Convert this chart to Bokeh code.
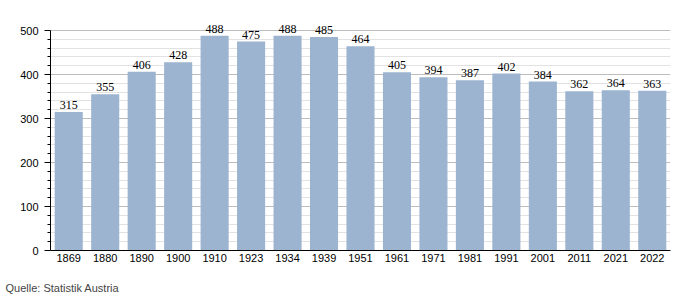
from bokeh.plotting import figure
from bokeh.models import ColumnDataSource, FixedTicker, Title, LabelSet, Range1d
from bokeh.embed import file_html
from bokeh.resources import INLINE

years = ["1869", "1880", "1890", "1900", "1910", "1923", "1934", "1939", "1951",
         "1961", "1971", "1981", "1991", "2001", "2011", "2021", "2022"]
values = [315, 355, 406, 428, 488, 475, 488, 485, 464, 405, 394, 387, 402, 384, 362, 364, 363]
labels = [str(v) for v in values]
major_ticks = [0, 100, 200, 300, 400, 500]
minor_ticks = [v for v in range(20, 500, 20) if v % 100 != 0]

src = ColumnDataSource(dict(x=years, top=values, lab=labels))

p = figure(x_range=years, y_range=Range1d(0, 550), width=700, height=300,
           output_backend="svg", toolbar_location=None,
           min_border_left=50, min_border_right=30, min_border_top=8, min_border_bottom=50)
p.outline_line_color = None
p.background_fill_color = "white"
p.x_range.range_padding = 0

p.vbar(x="x", top="top", width=0.77, source=src, color="#9cb4d0", line_color=None)

p.add_layout(LabelSet(x="x", y="top", text="lab", source=src, text_align="center",
                      text_baseline="bottom", y_offset=3, text_font_size="12px",
                      text_font="Liberation Sans", text_color="black"))

p.yaxis.ticker = FixedTicker(ticks=major_ticks, minor_ticks=minor_ticks)
p.yaxis.bounds = (0, 500)
p.ygrid.grid_line_color = "#bdbdbd"
p.ygrid.minor_grid_line_color = "#e2e2e2"
p.xgrid.grid_line_color = None
p.ygrid.level = "underlay"

for ax in (p.xaxis, p.yaxis):
    ax.axis_line_color = "black"
    ax.major_label_text_font = "Liberation Sans"
    ax.major_label_text_font_size = "11px"
    ax.major_label_text_color = "black"
p.yaxis.major_tick_line_color = "black"
p.yaxis.minor_tick_line_color = "black"
p.yaxis.major_tick_in = 0
p.yaxis.major_tick_out = 6
p.yaxis.minor_tick_in = 0
p.yaxis.minor_tick_out = 3
p.yaxis.major_label_standoff = 6
p.xaxis.major_tick_line_color = None
p.xaxis.major_tick_in = 0
p.xaxis.major_tick_out = 0
p.xaxis.major_label_standoff = 3

p.add_layout(Title(text=" ", text_font_size="1px", standoff=14), "below")
p.add_layout(Title(text="Quelle: Statistik Austria", align="left", text_font="Liberation Sans",
                   text_font_size="11px", text_font_style="normal", offset=-45,
                   standoff=0, vertical_align="top"), "below")

open("out.html", "w").write(file_html(p, INLINE))
